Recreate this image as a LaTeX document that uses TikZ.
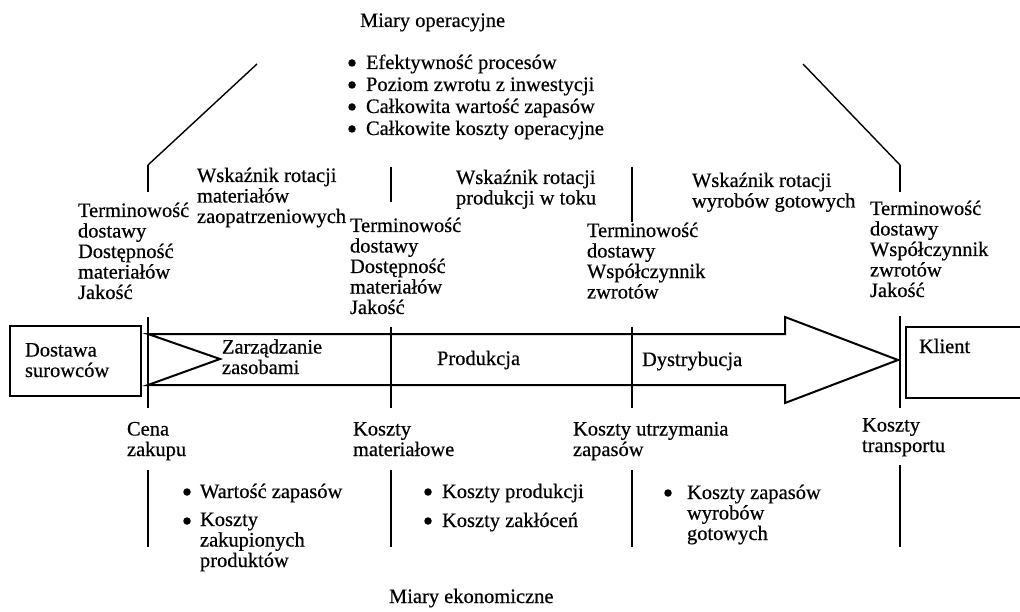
\documentclass[tikz,border=0pt]{standalone}
\usepackage{fontspec}
\setmainfont[FakeBold=0.5]{Liberation Serif}
\newcommand{\lblfont}{\fontsize{20.5}{20.5}\selectfont}
\begin{document}
\begin{tikzpicture}[x=1pt,y=-1pt,
  lbl/.style={anchor=base west,inner sep=0pt,outer sep=0pt,align=left,font=\lblfont},
  dot/.style={circle,fill=black,inner sep=0pt,minimum size=7.5pt},
  rule/.style={line width=2pt},
  slant/.style={line width=1.4pt},
  boxed/.style={line width=2pt}]
\useasboundingbox (0,0) rectangle (1020,612);

% operational measures at the top
\node[lbl] (opt) at (360,27) {Miary operacyjne};
\node[lbl] (op1) at (366,69) {Efektywność procesów};
\node[lbl] (op2) at (366,91) {Poziom zwrotu z inwestycji};
\node[lbl] (op3) at (366,113) {Całkowita wartość zapasów};
\node[lbl] (op4) at (366,135) {Całkowite koszty operacyjne};
\node[dot] (op1d) at (352,63) {};
\node[dot] (op2d) at (352,85) {};
\node[dot] (op3d) at (352,107) {};
\node[dot] (op4d) at (352,129) {};

% bracket lines and stage dividers
\draw[slant] (257,64) -- (148,165);
\draw[rule] (148,165) -- (148,192);
\draw[slant] (803,64) -- (900,165);
\draw[rule] (900,165) -- (900,192);
\draw[rule] (391,167) -- (391,202);
\draw[rule] (632,167) -- (632,222);

\draw[rule] (148,317) -- (148,408);
\draw[rule] (391,327) -- (391,408);
\draw[rule] (632,327) -- (632,408);
\draw[rule] (900,316) -- (900,408);

\draw[rule] (148,470) -- (148,547);
\draw[rule] (391,470) -- (391,547);
\draw[rule] (632,470) -- (632,547);
\draw[rule] (900,465) -- (900,547);

% process arrow
\draw[boxed,line join=miter] (148,334) -- (785,334) -- (785,317) -- (898,360)
  -- (785,403) -- (785,385) -- (148,385) -- (220,359) -- cycle;

% end boxes
\node[draw,boxed,minimum width=131pt,minimum height=70pt,inner sep=0pt,anchor=north west] (sup) at (9,325) {};
\node[lbl] (supt) at (25,377) {Dostawa\\surowców};
\begin{scope}
\clip (0,0) rectangle (1020,612);
\node[draw,boxed,minimum width=130pt,minimum height=71pt,inner sep=0pt,anchor=north west] (cli) at (905,326) {};
\end{scope}
\node[lbl] (clit) at (919,353) {Klient};

% stage names
\node[lbl] (st1) at (222,374) {Zarządzanie\\zasobami};
\node[lbl] (st2) at (437,365) {Produkcja};
\node[lbl] (st3) at (642,366) {Dystrybucja};

% upper measures (anchored at the baseline of the last line)
\node[lbl] (u1) at (78,299) {Terminowość\\dostawy\\Dostępność\\materiałów\\Jakość};
\node[lbl] (w1) at (197,223) {Wskaźnik rotacji\\materiałów\\zaopatrzeniowych};
\node[lbl] (u2) at (350,314) {Terminowość\\dostawy\\Dostępność\\materiałów\\Jakość};
\node[lbl] (w2) at (456,204.5) {Wskaźnik rotacji\\produkcji w toku};
\node[lbl] (u3) at (587,298.5) {Terminowość\\dostawy\\Współczynnik\\zwrotów};
\node[lbl] (w3) at (692,207.5) {Wskaźnik rotacji\\wyrobów gotowych};
\node[lbl] (u4) at (870,297) {Terminowość\\dostawy\\Współczynnik\\zwrotów\\Jakość};

% lower measures
\node[lbl] (c1) at (127,456) {Cena\\zakupu};
\node[lbl] (c2) at (353,456) {Koszty\\materiałowe};
\node[lbl] (c3) at (573,456) {Koszty utrzymania\\zapasów};
\node[lbl] (c4) at (862,452) {Koszty\\transportu};

\node[lbl] (b1) at (200,498) {Wartość zapasów};
\node[lbl] (b2) at (200,567) {Koszty\\zakupionych\\produktów};
\node[lbl] (b3) at (442,498) {Koszty produkcji};
\node[lbl] (b4) at (442,527) {Koszty zakłóceń};
\node[lbl] (b5) at (687,540) {Koszty zapasów\\wyrobów\\gotowych};
\node[dot] (b1d) at (187,492) {};
\node[dot] (b2d) at (187,521) {};
\node[dot] (b3d) at (428,492) {};
\node[dot] (b4d) at (428,521) {};
\node[dot] (b5d) at (668,493) {};

\node[lbl] (ect) at (389,603) {Miary ekonomiczne};
\end{tikzpicture}
\end{document}
